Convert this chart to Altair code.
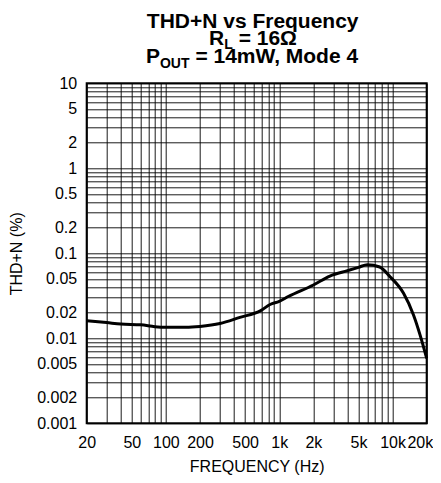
import altair as alt
import pandas as pd

# ---- data ----
freq = [20, 30, 40, 60, 80, 100, 150, 200, 300, 450, 680, 830, 1000, 1200,
        2000, 2800, 4000, 5000, 6000, 7700, 9500, 12500, 15300, 17500, 20000]
thdn = [0.0161, 0.0153, 0.0147, 0.0144, 0.0137, 0.0135, 0.0135, 0.0138, 0.0149,
        0.0176, 0.0210, 0.0250, 0.0272, 0.031, 0.0424, 0.054, 0.0625, 0.0684,
        0.0735, 0.0690, 0.053, 0.0338, 0.0188, 0.0109, 0.0058]

x_grid = [20, 30, 40, 50, 60, 70, 80, 90,
          100, 200, 300, 400, 500, 600, 700, 800, 900,
          1000, 2000, 3000, 4000, 5000, 6000, 7000, 8000, 9000,
          10000, 20000]
x_label_values = [20, 50, 100, 200, 500, 1000, 2000, 5000, 10000, 20000]
x_label_texts = ["20", "50", "100", "200", "500", "1k", "2k", "5k", "10k", "20k"]

y_decades = [0.001, 0.01, 0.1, 1]
y_grid = [round(d * k, 6) for d in y_decades for k in range(1, 10)] + [10]
y_label_values = [10, 5, 2, 1, 0.5, 0.2, 0.1, 0.05, 0.02, 0.01, 0.005, 0.002, 0.001]
y_label_texts = ["10", "5", "2", "1", "0.5", "0.2", "0.1", "0.05", "0.02",
                 "0.01", "0.005", "0.002", "0.001"]

x_title = "FREQUENCY (Hz)"
y_title = "THD+N (%)"
title_line1 = "THD+N vs Frequency"
title_line2 = ["R", "L", "= 16Ω"]
title_line3 = ["P", "OUT", "= 14mW, Mode 4"]

FONT = "Liberation Sans"


def label_expr(values, texts):
    parts = [f"datum.value == {v} ? '{t}'" for v, t in zip(values, texts)]
    return " : ".join(parts) + " : ''"


df = pd.DataFrame({"f": freq, "v": thdn})

common_axis = dict(
    grid=True, ticks=False, tickSize=0, domain=False,
    labelFont=FONT, labelFontSize=16, labelColor="black",
    labelOverlap=False, labelFlush=False,
    gridColor="black", gridWidth=1, gridOpacity=0.9,
    titleFont=FONT, titleFontSize=16, titleFontWeight="normal",
    titleColor="black", titleBaseline="alphabetic",
)

last_x = x_label_values[-1]

line = alt.Chart(df).mark_line(color="black", strokeWidth=3,
                               interpolate="monotone").encode(
    x=alt.X("f:Q",
            scale=alt.Scale(type="log", domain=[20, 20000], nice=False),
            axis=alt.Axis(values=x_grid,
                          labelExpr=label_expr(x_label_values, x_label_texts),
                          labelAlign={"condition": {"test": f"datum.value == {last_x}",
                                                    "value": "right"},
                                      "value": "center"},
                          labelOffset={"condition": {"test": f"datum.value == {last_x}",
                                                     "value": 6},
                                       "value": 0},
                          labelBaseline="alphabetic", labelPadding=24,
                          title=x_title, titleX=170, titleY=48,
                          titleAlign="center", **common_axis)),
    y=alt.Y("v:Q",
            scale=alt.Scale(type="log", domain=[0.001, 10], nice=False),
            axis=alt.Axis(values=y_grid,
                          labelExpr=label_expr(y_label_values, y_label_texts),
                          labelPadding=10,
                          title=y_title, titleAngle=270, titleX=-65,
                          titleY=170, titleAlign="center", **common_axis)),
)

one = pd.DataFrame({"a": [0]})


def txt(text, x, y, size, align="left"):
    return alt.Chart(one).mark_text(
        text=text, font=FONT, fontWeight="bold", fontSize=size,
        align=align, baseline="alphabetic", color="black"
    ).encode(x=alt.value(x), y=alt.value(y))


titles = [
    txt(title_line1, 166, -55, 21, "center"),
    txt(title_line2[0], 122.4, -38.3, 21),
    txt(title_line2[1], 137.6, -34, 14),
    txt(title_line2[2], 152.0, -38.3, 21),
    txt(title_line3[0], 59.3, -20, 21),
    txt(title_line3[1], 73.3, -15, 14),
    txt(title_line3[2], 108.7, -20, 21),
]

chart = alt.layer(line, *titles).properties(
    width=340, height=340,
    autosize=alt.AutoSizeParams(type="none"),
    padding={"left": 78.7, "top": 75.3, "right": 6, "bottom": 51.5},
).configure_view(stroke="black", strokeWidth=2)

chart.save("out.html", embed_options={"renderer": "svg", "actions": False})
